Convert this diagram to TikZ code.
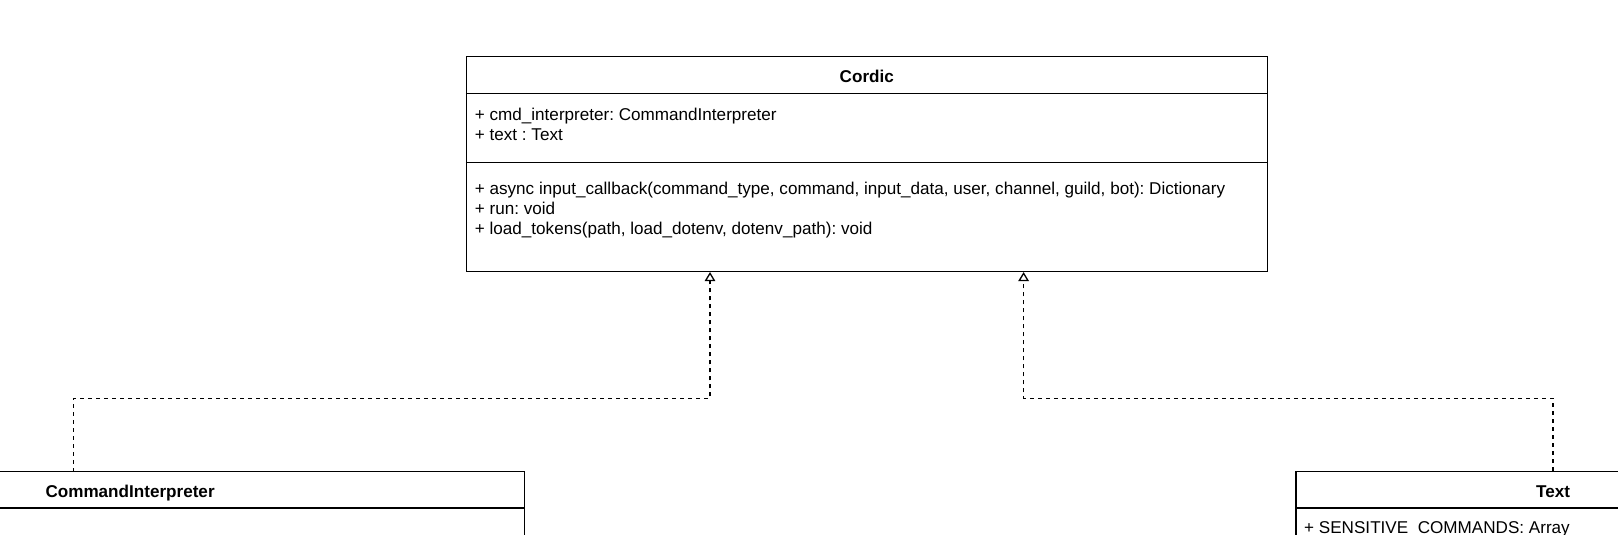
\documentclass[tikz,border=0pt]{standalone}
\usepackage{fontspec}
\setmainfont{Liberation Sans}
\usetikzlibrary{
    positioning,
    arrows.meta
}
\frenchspacing
\tikzset{
    classbox/.style={draw, line width=1.3pt, inner sep=0pt},
    member/.style={anchor=base west, inner sep=0pt, font=\fontsize{17.1}{19.6}\selectfont},
    classname/.style={anchor=base, inner sep=0pt, font=\fontsize{17.1}{19.6}\selectfont\bfseries},
    realize/.style={line width=1.3pt, dash pattern=on 4pt off 4pt,
        -{Triangle[open, length=9pt, width=10.5pt, line width=1.3pt]}}
}

\begin{document}
\begin{tikzpicture}[x=1pt, y=-1pt]
        \useasboundingbox (0,0) rectangle (1618,535);
        \clip (0,0) rectangle (1618,535);

        % Cordic
        \node[classbox, minimum width=800.8pt, minimum height=214.6pt] (cordic) at (866.8,164.1) {};
        \draw[line width=1.3pt] ([yshift=-37.1pt]cordic.north west) -- ([yshift=-37.1pt]cordic.north east);
        \draw[line width=1.3pt] ([yshift=-106.2pt]cordic.north west) -- ([yshift=-106.2pt]cordic.north east);
        \node[classname] (cordicName) at (866.8,82.3) {Cordic};
        \node[member] (cordicA1) at (474.7,120.5) {+ cmd\_interpreter: CommandInterpreter};
        \node[member] (cordicA2) at (474.7,140.1) {+ text : Text};
        \node[member] (cordicM1) at (474.7,194.8) {+ async input\_callback(command\_type, command, input\_data, user, channel, guild, bot): Dictionary};
        \node[member] (cordicM2) at (474.7,214.4) {+ run: void};
        \node[member] (cordicM3) at (474.7,234.0) {+ load\_tokens(path, load\_dotenv, dotenv\_path): void};

        % CommandInterpreter
        \node[classbox, minimum width=788.2pt, minimum height=228.4pt] (ci) at (130.1,585.8) {};
        \draw[line width=1.3pt] ([yshift=-37.1pt]ci.north west) -- ([yshift=-37.1pt]ci.north east);
        \node[classname] (ciName) at (130.1,497.2) {CommandInterpreter};

        % Text
        \node[classbox, minimum width=514pt, minimum height=228.4pt] (txt) at (1553,585.8) {};
        \draw[line width=1.3pt] ([yshift=-37.1pt]txt.north west) -- ([yshift=-37.1pt]txt.north east);
        \node[classname] (txtName) at (1553,497.2) {Text};
        \node[member] (txtA1) at (1304,533) {+ SENSITIVE\_COMMANDS: Array};

        % realization
        \coordinate (ciTop) at (73.3,471.6);
        \coordinate (bendL) at (710,398.3);
        \coordinate (bendR) at (1023.6,398.3);
        \draw[realize] (ciTop) |- (bendL) -- (bendL |- cordic.south);
        \draw[realize] (txt.north) |- (bendR) -- (bendR |- cordic.south);
    \end{tikzpicture}
\end{document}
